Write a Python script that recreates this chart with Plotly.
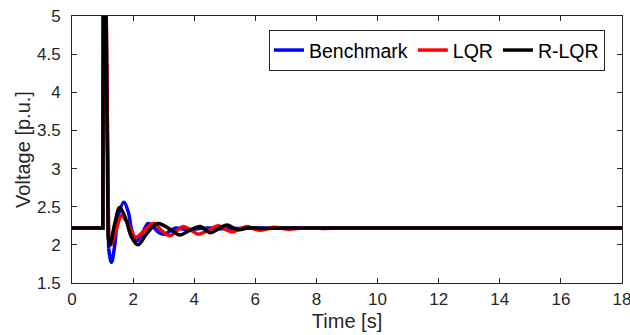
import plotly.graph_objects as go

# Common pre-fault level and spike (rise)
spike_t = [0.0, 1.01, 1.03, 1.08]
spike_v = [2.22, 2.22, 6.5, 6.5]

# Benchmark (after the spike)
bench_t = [1.2, 1.29, 1.4, 1.5, 1.7, 1.85, 1.95, 2.11, 2.3, 2.49, 2.65, 2.85, 3.04, 3.2, 3.4, 3.6, 3.85, 4.1, 4.5, 5.0, 6.0, 18.0]
bench_v = [1.95, 1.77, 2.0, 2.35, 2.56, 2.42, 2.2, 2.05, 2.15, 2.28, 2.24, 2.16, 2.14, 2.18, 2.22, 2.21, 2.19, 2.21, 2.22, 2.21, 2.22, 2.22]

# LQR
lqr_t = [1.2, 1.27, 1.45, 1.62, 1.8, 2.08, 2.35, 2.66, 2.95, 3.2, 3.42, 3.64, 3.9, 4.14, 4.45, 4.79, 5.0, 5.23, 5.5, 5.72, 5.95, 6.15, 6.6, 7.1, 7.6, 8.2, 9.0, 18.0]
lqr_v = [2.1, 2.0, 2.2, 2.38, 2.3, 2.1, 2.18, 2.28, 2.18, 2.12, 2.18, 2.24, 2.19, 2.14, 2.19, 2.25, 2.21, 2.17, 2.21, 2.24, 2.21, 2.19, 2.23, 2.205, 2.225, 2.215, 2.22, 2.22]

# R-LQR
rlqr_t = [1.18, 1.24, 1.4, 1.56, 1.75, 1.95, 2.16, 2.45, 2.8, 3.15, 3.53, 3.85, 4.19, 4.52, 4.8, 5.06, 5.43, 5.8, 6.3, 7.0, 18.0]
rlqr_v = [2.1, 2.0, 2.28, 2.49, 2.35, 2.1, 2.0, 2.15, 2.28, 2.22, 2.13, 2.19, 2.24, 2.16, 2.21, 2.26, 2.2, 2.225, 2.215, 2.22, 2.22]

names = ["Benchmark", "LQR", "R-LQR"]
colors = ["#0000FF", "#FF0000", "#000000"]
series = [(bench_t, bench_v), (lqr_t, lqr_v), (rlqr_t, rlqr_v)]

x_ticks = list(range(0, 19, 2))
y_ticks = [1.5, 2, 2.5, 3, 3.5, 4, 4.5, 5]

fig = go.Figure()
for name, col, (t, v) in zip(names, colors, series):
    fig.add_trace(go.Scatter(x=spike_t + t[:1], y=spike_v + v[:1], mode="lines",
                             line=dict(color=col, width=3.5),
                             showlegend=False, legendgroup=name, hoverinfo="skip"))
    fig.add_trace(go.Scatter(x=t, y=v, mode="lines", name=name, legendgroup=name,
                             line=dict(color=col, width=3.5, shape="spline", smoothing=1.0)))

axis_col = "#262626"
font_fam = "Liberation Sans, Arial, Helvetica, sans-serif"

fig.update_layout(
    width=630, height=335,
    margin=dict(l=72, r=8, t=16, b=52, autoexpand=False),
    paper_bgcolor="white", plot_bgcolor="white",
    font=dict(family=font_fam, color=axis_col, size=17),
    showlegend=True,
    legend=dict(orientation="h", x=0.969, xanchor="right", y=0.948, yanchor="top",
                bordercolor=axis_col, borderwidth=1, bgcolor="white",
                font=dict(size=19.5, color="#000000"), itemwidth=30, tracegroupgap=0),
    xaxis=dict(range=[0, 18], tickvals=x_ticks, ticks="inside", ticklen=5, tickcolor=axis_col,
               showline=True, linecolor=axis_col, linewidth=1, mirror="ticks", showgrid=False,
               zeroline=False, automargin=False, ticklabeloverflow="allow", ticklabelstandoff=1,
               title=dict(text="Time [s]", font=dict(size=20), standoff=5),
               tickfont=dict(size=17)),
    yaxis=dict(range=[1.5, 5], tickvals=y_ticks, ticks="inside", ticklen=5, tickcolor=axis_col,
               showline=True, linecolor=axis_col, linewidth=1, mirror="ticks", showgrid=False,
               zeroline=False, automargin=False, ticklabeloverflow="allow", ticklabelstandoff=7,
               title=dict(text="Voltage [p.u.]", font=dict(size=20), standoff=0),
               tickfont=dict(size=17)),
)

fig.write_html("out.html", post_script="document.body.style.margin='0';",
               config={"displayModeBar": False})
